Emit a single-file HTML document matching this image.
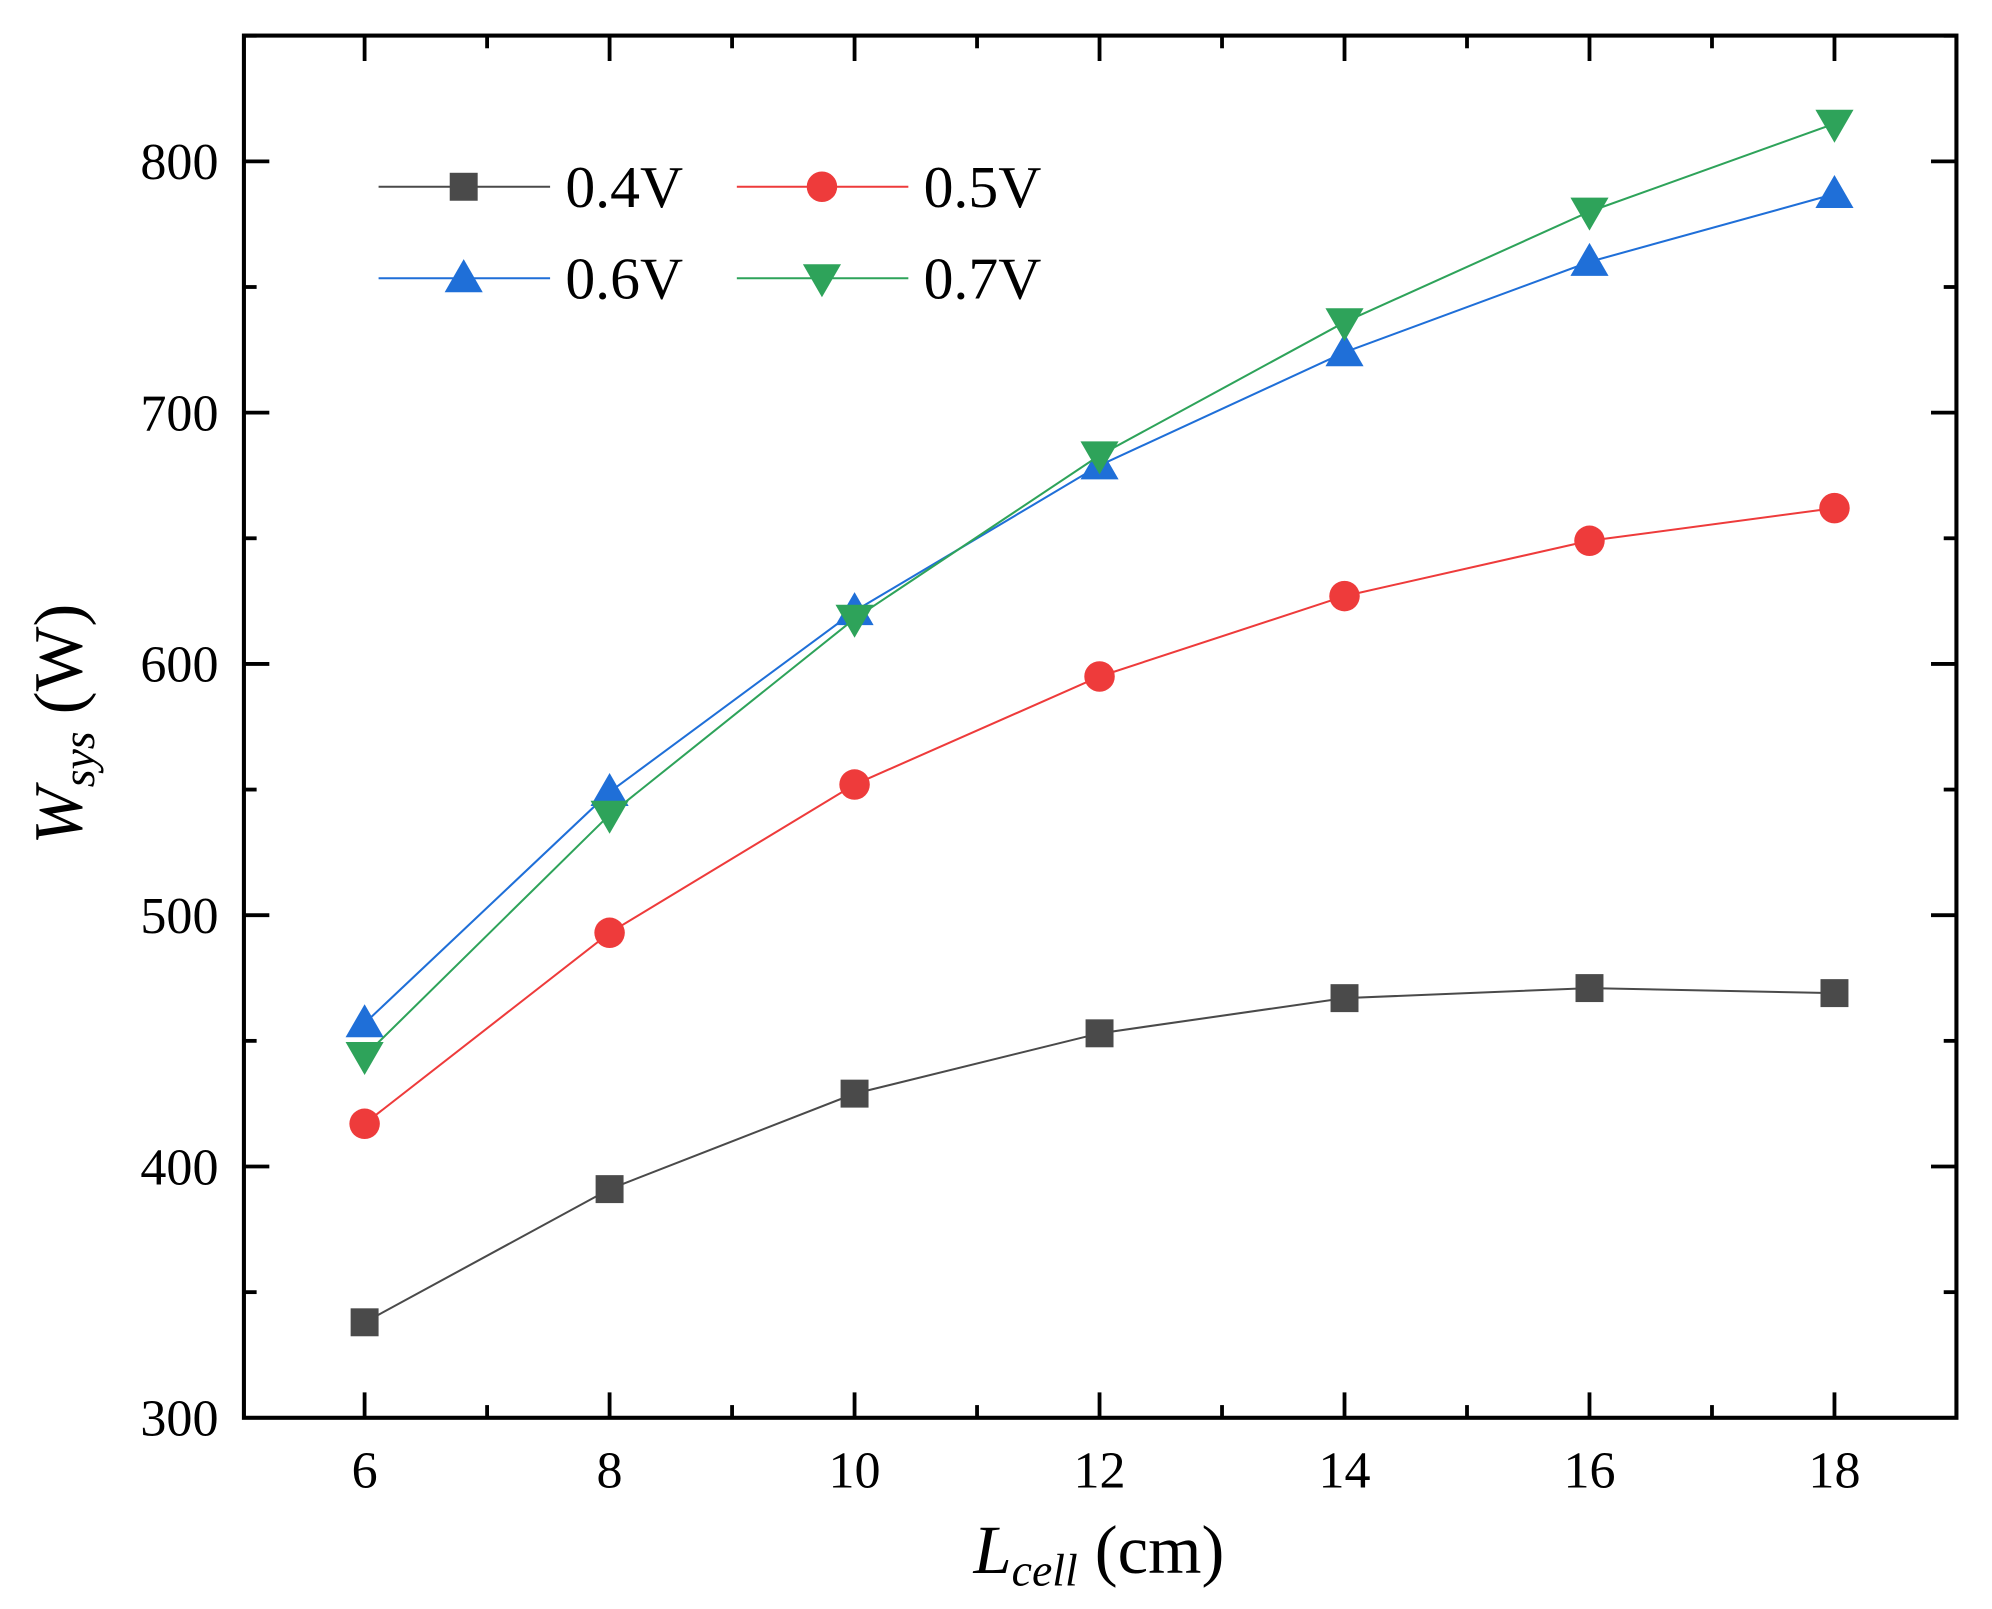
<!DOCTYPE html>
<html><head><meta charset="utf-8"><style>html,body{margin:0;padding:0;background:#fff}svg{display:block}</style></head>
<body>
<svg id="chart" width="1992" height="1609" viewBox="0 0 1568 1266.5" xmlns="http://www.w3.org/2000/svg" font-family="'Liberation Serif', serif">
<g id="grid"></g>
<g id="series"></g>
<g id="legend"></g>
<text transform="translate(64,570) rotate(-90)" text-anchor="middle" font-size="54"><tspan font-style="italic">W</tspan><tspan font-style="italic" font-size="36" dy="10">sys</tspan><tspan dy="-10"> (W)</tspan></text>
<text x="865" y="1238" text-anchor="middle" font-size="54"><tspan font-style="italic">L</tspan><tspan font-style="italic" font-size="36" dy="10">cell</tspan><tspan dy="-10"> (cm)</tspan></text>
</svg>
<script>
const xCats = [6, 8, 10, 12, 14, 16, 18];
const s04 = [338, 391, 429, 453, 467, 471, 469];
const s05 = [417, 493, 552, 595, 627, 649, 662];
const s06 = [457, 549, 621, 679, 724, 760, 787];
const s07 = [444, 540, 618, 683, 736, 780, 815];
const seriesNames = ['0.4V', '0.5V', '0.6V', '0.7V'];
const yTicks = [300, 400, 500, 600, 700, 800];
const xTicks = [6, 8, 10, 12, 14, 16, 18];

const NS = 'http://www.w3.org/2000/svg';
const L = 192, R = 1540, T = 28, B = 1116;
const X = v => 287 + (v - 6) * (1444 - 287) / 12;
const Y = v => 1116 - (v - 300) * (1116 - 127) / 500;
function mk(tag, attrs, parent) { const e = document.createElementNS(NS, tag); for (const k in attrs) e.setAttribute(k, attrs[k]); parent.appendChild(e); return e; }
const grid = document.getElementById('grid');
const frame = mk('rect', {x: L, y: T, width: R - L, height: B - T, fill: 'none', stroke: '#000', 'stroke-width': 3.2}, grid);


for (let v = 5; v <= 19; v++) {
  const x = X(v); if (x <= L || x >= R) continue;
  const len = v % 2 === 0 ? 20 : 10;
  const t1 = mk('line', {x1: x, x2: x, y1: B, y2: B - len, stroke: '#000', 'stroke-width': 3}, grid);
  
  
  mk('line', {x1: x, x2: x, y1: T, y2: T + len, stroke: '#000', 'stroke-width': 3}, grid);
}
for (let v = 300; v <= 850; v += 50) {
  const y = Y(v); if (y <= T || y >= B) continue;
  const len = v % 100 === 0 ? 20 : 10;
  const t1 = mk('line', {x1: L, x2: L + len, y1: y, y2: y, stroke: '#000', 'stroke-width': 3}, grid);
  
  
  mk('line', {x1: R, x2: R - len, y1: y, y2: y, stroke: '#000', 'stroke-width': 3}, grid);
}
yTicks.forEach(v => {
  const t = mk('text', {x: 172, y: Y(v) + 14, 'text-anchor': 'end', 'font-size': 41}, grid);
  t.textContent = v;
  
  
});
xTicks.forEach(v => {
  const t = mk('text', {x: X(v), y: 1171, 'text-anchor': 'middle', 'font-size': 41}, grid);
  t.textContent = v;
  
  
});
const colors = ['#4a4a4a', '#ee3b3b', '#1f6fd8', '#2ea35a'];
const shapes = ['square', 'circle', 'up', 'down'];
function marker(shape, cx, cy, color, parent) {
  let e;
  if (shape === 'square') e = mk('rect', {x: cx - 11, y: cy - 11, width: 22, height: 22, fill: color}, parent);
  else if (shape === 'circle') e = mk('circle', {cx: cx, cy: cy, r: 12, fill: color}, parent);
  else if (shape === 'up') e = mk('polygon', {points: `${cx},${cy - 15} ${cx - 15},${cy + 11} ${cx + 15},${cy + 11}`, fill: color}, parent);
  else e = mk('polygon', {points: `${cx},${cy + 15} ${cx - 15},${cy - 11} ${cx + 15},${cy - 11}`, fill: color}, parent);
  return e;
}
const sg = document.getElementById('series');
[s04, s05, s06, s07].forEach((data, i) => {
  const g = mk('g', {}, sg);
  
  
  const pl = mk('polyline', {points: data.map((v, j) => X(xCats[j]) + ',' + Y(v)).join(' '), fill: 'none', stroke: colors[i], 'stroke-width': 1.6}, g);
  
  
  data.forEach((v, j) => {
    const m = marker(shapes[i], X(xCats[j]), Y(v), colors[i], g);
    
    
  });
});
const lg = document.getElementById('legend');
const legPos = [[298, 147], [580, 147], [298, 219], [580, 219]];
seriesNames.forEach((n, i) => {
  const [x, y] = legPos[i];
  const g = mk('g', {}, lg);
  
  
  mk('line', {x1: x, x2: x + 135, y1: y, y2: y, stroke: colors[i], 'stroke-width': 1.6}, g);
  marker(shapes[i], x + 67, y, colors[i], g);
  const t = mk('text', {x: x + 147, y: y + 16, 'font-size': 47}, g);
  t.textContent = n;
});
</script>
</body></html>
